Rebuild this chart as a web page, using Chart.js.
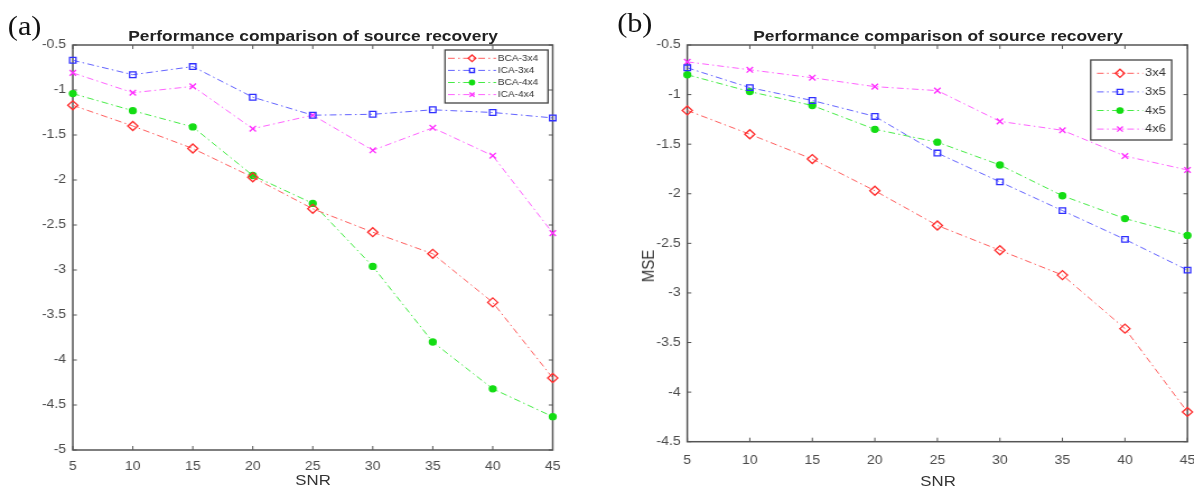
<!DOCTYPE html>
<html>
<head>
<meta charset="utf-8">
<script src="https://cdn.jsdelivr.net/npm/chart.js@4.4.1/dist/chart.umd.min.js"></script>
<style>
  html, body { margin: 0; padding: 0; background: #fff; }
  body { width: 1194px; height: 493px; position: relative; overflow: hidden; font-family: Arial, "Liberation Sans", sans-serif; }
  .panel { position: absolute; top: 0; width: 533px; height: 493px; transform: scaleX(1.12); transform-origin: 0 0; }
  .panel canvas { position: absolute; left: 0; top: 0; }
  .tag { position: absolute; font: 27px "Liberation Serif", "Times New Roman", serif; line-height: 27px; color: #111; }
  .title { position: absolute; top: 27px; font: bold 15.5px Arial, "Liberation Sans", sans-serif; line-height: 18px; text-align: center; color: #222; white-space: nowrap; }
  .xlab { position: absolute; font: 15px Arial, "Liberation Sans", sans-serif; line-height: 17px; text-align: center; color: #333; }
  .ylab { position: absolute; font: 15px Arial, "Liberation Sans", sans-serif; line-height: 17px; color: #333; transform: translate(-50%, -50%) rotate(-90deg); white-space: nowrap; }
</style>
</head>
<body>
<div class="panel" id="panelA" style="left:0">
  <canvas id="chartA"></canvas>
  <div class="tag" style="left:7px; top:13px">(a)</div>
  <div class="title" style="left:65px; width:429px">Performance comparison of source recovery</div>
  <div class="xlab" style="left:65px; width:429px; top:471px">SNR</div>
</div>
<div class="panel" id="panelB" style="left:597px">
  <canvas id="chartB"></canvas>
  <div class="tag" style="left:18px; top:10px">(b)</div>
  <div class="title" style="left:81px; width:447px">Performance comparison of source recovery</div>
  <div class="xlab" style="left:81px; width:447px; top:472px">SNR</div>
  <div class="ylab" style="left:45px; top:266px">MSE</div>
</div>
<script>
// x axis (SNR) shared by both panels
const snr = [5, 10, 15, 20, 25, 30, 35, 40, 45];
const yTicksA = [-5, -4.5, -4, -3.5, -3, -2.5, -2, -1.5, -1, -0.5];
const yTicksB = [-4.5, -4, -3.5, -3, -2.5, -2, -1.5, -1, -0.5];

// panel (a)
const bca3x4 = [-1.17, -1.40, -1.65, -1.97, -2.32, -2.58, -2.82, -3.36, -4.20];
const ica3x4 = [-0.67, -0.83, -0.74, -1.08, -1.28, -1.27, -1.22, -1.25, -1.31];
const bca4x4 = [-1.04, -1.23, -1.41, -1.95, -2.26, -2.96, -3.80, -4.32, -4.63];
const ica4x4 = [-0.81, -1.03, -0.96, -1.43, -1.28, -1.67, -1.42, -1.73, -2.59];

// panel (b)
const mse3x4 = [-1.16, -1.40, -1.65, -1.97, -2.32, -2.57, -2.82, -3.36, -4.20];
const mse3x5 = [-0.73, -0.93, -1.06, -1.22, -1.59, -1.88, -2.17, -2.46, -2.77];
const mse4x5 = [-0.80, -0.97, -1.11, -1.35, -1.48, -1.71, -2.02, -2.25, -2.42];
const mse4x6 = [-0.67, -0.75, -0.83, -0.92, -0.96, -1.27, -1.36, -1.62, -1.76];

const dashDot = [6, 3, 1.5, 3];

const styles = {
    red:     { line: 'rgba(255,85,85,0.95)',  mark: '#ff2d2d', shape: 'rectRot',  r: 4.5, fill: 'rgba(0,0,0,0)' },
    blue:    { line: 'rgba(90,90,255,0.95)',  mark: '#2f2fff', shape: 'rect',     r: 4,   fill: 'rgba(0,0,0,0)' },
    green:   { line: 'rgba(60,235,60,0.95)',  mark: '#14dd14', shape: 'circle',   r: 3,   fill: '#14dd14' },
    magenta: { line: 'rgba(255,90,255,0.95)', mark: '#ff2aff', shape: 'crossRot', r: 4,   fill: 'rgba(0,0,0,0)' }
};

const makeSet = (label, values, st) => ({
    label: label,
    data: values.map((v, i) => ({ x: snr[i], y: v })),
    borderColor: st.line,
    borderWidth: 1,
    borderDash: dashDot,
    pointStyle: st.shape,
    pointRadius: st.r,
    pointHoverRadius: st.r,
    pointBorderColor: st.mark,
    pointBackgroundColor: st.fill,
    pointBorderWidth: 1.3,
    fill: false,
    tension: 0,
    clip: false
});

// axes box with inward ticks, drawn like the original plot frame
const framePlugin = {
    id: 'frame',
    beforeDatasetsDraw(chart) {
        const { ctx, chartArea: a, scales: { x, y } } = chart;
        ctx.save();
        ctx.strokeStyle = '#555';
        ctx.lineWidth = 1.5;
        ctx.strokeRect(a.left, a.top, a.right - a.left, a.bottom - a.top);
        ctx.lineWidth = 1;
        ctx.beginPath();
        x.ticks.forEach(t => {
            const px = x.getPixelForValue(t.value);
            ctx.moveTo(px, a.bottom); ctx.lineTo(px, a.bottom - 4);
            ctx.moveTo(px, a.top); ctx.lineTo(px, a.top + 4);
        });
        y.ticks.forEach(t => {
            const py = y.getPixelForValue(t.value);
            ctx.moveTo(a.left, py); ctx.lineTo(a.left + 3.6, py);
            ctx.moveTo(a.right, py); ctx.lineTo(a.right - 3.6, py);
        });
        ctx.stroke();
        ctx.restore();
    }
};

// boxed legend inside the axes (line sample + marker + text)
const boxLegend = {
    id: 'boxLegend',
    afterDraw(chart, args, o) {
        const ctx = chart.ctx;
        ctx.save();
        ctx.fillStyle = '#fff';
        ctx.fillRect(o.x, o.y, o.w, o.h);
        ctx.strokeStyle = '#444';
        ctx.lineWidth = 1.3;
        ctx.strokeRect(o.x, o.y, o.w, o.h);
        chart.data.datasets.forEach((ds, i) => {
            const cy = o.y + o.first + i * o.rowH;
            ctx.strokeStyle = ds.borderColor;
            ctx.lineWidth = 1;
            ctx.setLineDash(ds.borderDash);
            ctx.beginPath();
            ctx.moveTo(o.x + o.l0, cy);
            ctx.lineTo(o.x + o.l1, cy);
            ctx.stroke();
            ctx.setLineDash([]);
            ctx.strokeStyle = ds.pointBorderColor;
            ctx.fillStyle = ds.pointBackgroundColor;
            ctx.lineWidth = ds.pointBorderWidth;
            Chart.helpers.drawPoint(ctx, {
                pointStyle: ds.pointStyle, radius: ds.pointRadius * o.mk,
                borderWidth: ds.pointBorderWidth, rotation: 0
            }, o.x + (o.l0 + o.l1) / 2, cy);
            ctx.fillStyle = '#333';
            ctx.font = o.font;
            ctx.textBaseline = 'middle';
            ctx.fillText(ds.label, o.x + o.tx, cy);
        });
        ctx.restore();
    }
};

const tickFont = { family: 'Arial, "Liberation Sans", sans-serif', size: 12.5 };

const makeChart = (id, datasets, yTicks, pad, xHeight, xPad, legendBox) => {
    return new Chart(document.getElementById(id), {
        type: 'line',
        data: { datasets: datasets },
        options: {
            responsive: true,
            maintainAspectRatio: false,
            animation: false,
            events: [],
            layout: { padding: pad },
            plugins: {
                legend: { display: false },
                title: { display: false },
                tooltip: { enabled: false },
                boxLegend: legendBox
            },
            scales: {
                x: {
                    type: 'linear',
                    min: snr[0],
                    max: snr[snr.length - 1],
                    afterBuildTicks: (s) => { s.ticks = snr.map(v => ({ value: v })); },
                    afterFit: (s) => { s.height = xHeight; s.paddingLeft = 0; s.paddingRight = 0; },
                    grid: { display: false, drawTicks: false },
                    border: { display: false },
                    ticks: { color: '#4a4a4a', font: tickFont, padding: xPad, maxRotation: 0, callback: (v) => String(v) }
                },
                y: {
                    type: 'linear',
                    min: yTicks[0],
                    max: yTicks[yTicks.length - 1],
                    afterBuildTicks: (s) => { s.ticks = yTicks.map(v => ({ value: v })); },
                    afterFit: (s) => { s.width = 44; },
                    grid: { display: false, drawTicks: false },
                    border: { display: false },
                    ticks: { color: '#4a4a4a', font: tickFont, padding: 6, callback: (v) => String(v) }
                }
            }
        },
        plugins: [framePlugin, boxLegend]
    });
};

makeChart('chartA', [
    makeSet('BCA-3x4', bca3x4, styles.red),
    makeSet('ICA-3x4', ica3x4, styles.blue),
    makeSet('BCA-4x4', bca4x4, styles.green),
    makeSet('ICA-4x4', ica4x4, styles.magenta)
], yTicksA, { left: 21, right: 39.5, top: 45, bottom: 0 }, 43, 9,
    { x: 397.3, y: 50, w: 92, h: 53, first: 8.3, rowH: 12.1, l0: 2.7, l1: 45.6, tx: 47.3, mk: 0.75, font: '9px Arial, "Liberation Sans", sans-serif' });

makeChart('chartB', [
    makeSet('3x4', mse3x4, styles.red),
    makeSet('3x5', mse3x5, styles.blue),
    makeSet('4x5', mse4x5, styles.green),
    makeSet('4x6', mse4x6, styles.magenta)
], yTicksB, { left: 36.6, right: 5.6, top: 45, bottom: 0 }, 51.3, 11.5,
    { x: 440.8, y: 60, w: 72.3, h: 80, first: 13.3, rowH: 18.6, l0: 5.6, l1: 46.7, tx: 48.5, mk: 0.9, font: '11.5px Arial, "Liberation Sans", sans-serif' });
</script>
</body>
</html>
